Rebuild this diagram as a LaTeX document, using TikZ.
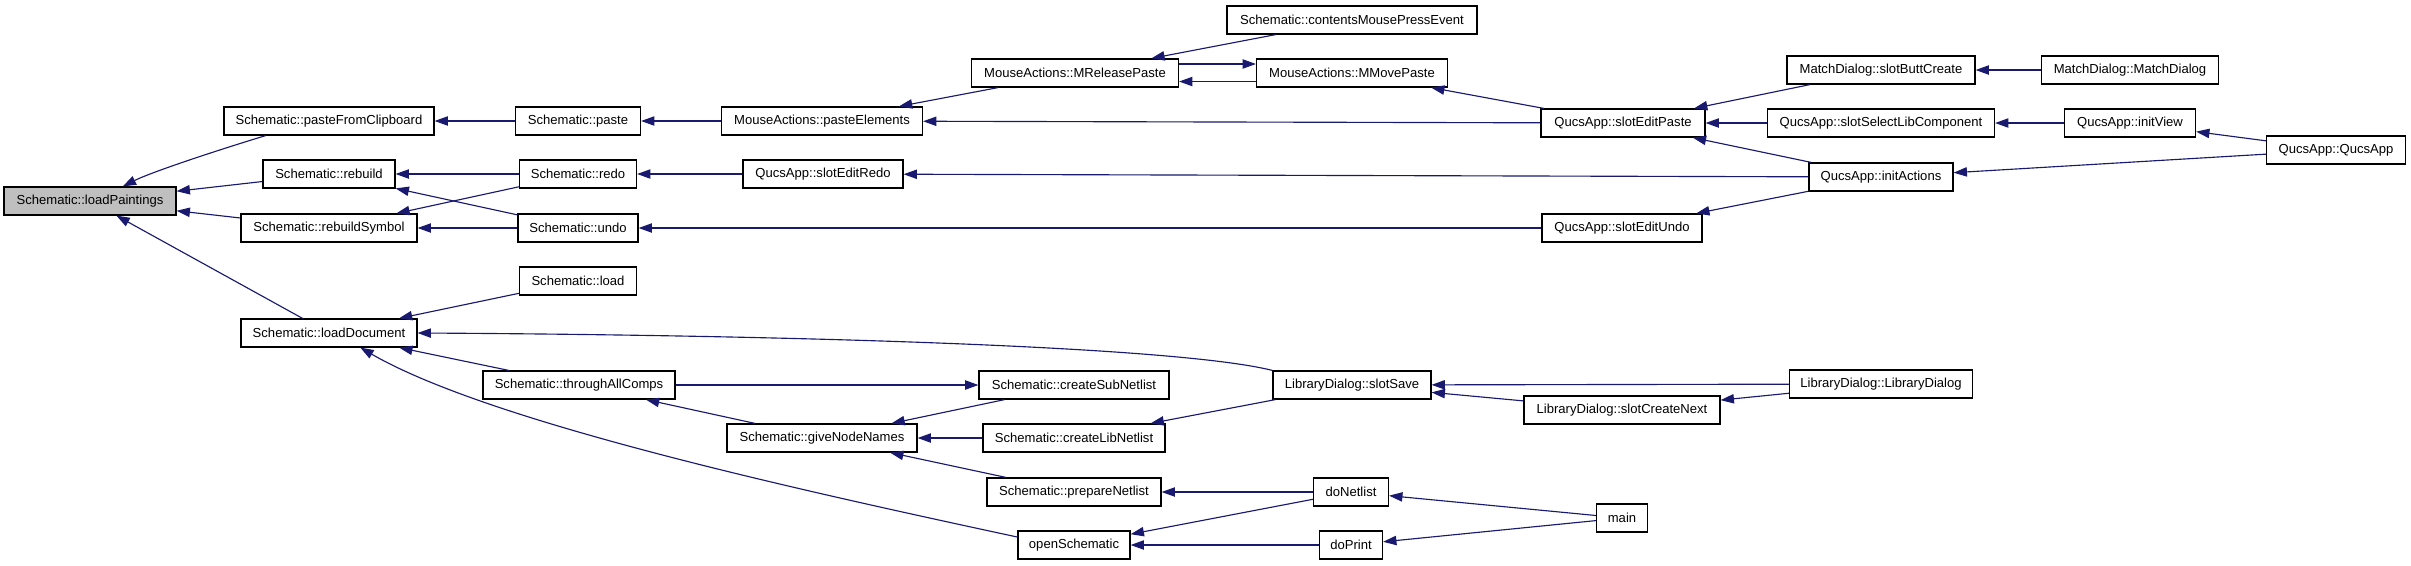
\documentclass[tikz,border=0pt]{standalone}
\usepackage{fontspec}
\setmainfont{Liberation Sans}
\usetikzlibrary{arrows.meta}
\definecolor{navyc}{HTML}{191970}
\definecolor{greyfill}{HTML}{BFBFBF}
\tikzset{
  fn/.style={draw=black, fill=white, line width=0.9pt, minimum height=21pt, inner sep=2pt,
             font=\fontsize{9.8}{11}\selectfont},
  bw/.style={minimum width=#1*0.75pt},
  conn/.style={draw=navyc, line width=0.85pt, -{Triangle[length=10pt,width=7pt]}},
}
\begin{document}
\begin{tikzpicture}[x=0.75pt,y=-0.75pt]
\fill[white] (0,0) rectangle (2411,565);
\useasboundingbox (0,0) rectangle (2411,565);

% nodes
\node[fn,bw=172,fill=greyfill] (lp) at (90,201) {Schematic::loadPaintings};
\node[fn,bw=210] (pfc) at (329,121) {Schematic::pasteFromClipboard};
\node[fn,bw=132] (reb) at (329,174) {Schematic::rebuild};
\node[fn,bw=176] (rbs) at (329,228) {Schematic::rebuildSymbol};
\node[fn,bw=176] (ldoc) at (329,333) {Schematic::loadDocument};
\node[fn,bw=125] (paste) at (578,121) {Schematic::paste};
\node[fn,bw=117] (redo) at (578,174) {Schematic::redo};
\node[fn,bw=120] (undo) at (578,228) {Schematic::undo};
\node[fn,bw=117] (load) at (578,281) {Schematic::load};
\node[fn,bw=192] (tac) at (579,385) {Schematic::throughAllComps};
\node[fn,bw=201] (pe) at (822,121) {MouseActions::pasteElements};
\node[fn,bw=160] (ser) at (823,174) {QucsApp::slotEditRedo};
\node[fn,bw=190] (gnn) at (822,438) {Schematic::giveNodeNames};
\node[fn,bw=207] (mrp) at (1075,73) {MouseActions::MReleasePaste};
\node[fn,bw=191] (mmp) at (1352,73) {MouseActions::MMovePaste};
\node[fn,bw=250] (cmpe) at (1352,20) {Schematic::contentsMousePressEvent};
\node[fn,bw=190] (csn) at (1074,385) {Schematic::createSubNetlist};
\node[fn,bw=182] (cln) at (1074,438) {Schematic::createLibNetlist};
\node[fn,bw=174] (pn) at (1074,492) {Schematic::prepareNetlist};
\node[fn,bw=112] (os) at (1074,545) {openSchematic};
\node[fn,bw=158] (ss) at (1352,385) {LibraryDialog::slotSave};
\node[fn,bw=75] (dn) at (1351,492) {doNetlist};
\node[fn,bw=63] (dp) at (1351,545) {doPrint};
\node[fn,bw=164] (sep) at (1623,123) {QucsApp::slotEditPaste};
\node[fn,bw=160] (seu) at (1622,228) {QucsApp::slotEditUndo};
\node[fn,bw=196] (scn) at (1622,410) {LibraryDialog::slotCreateNext};
\node[fn,bw=51] (main) at (1622,518) {main};
\node[fn,bw=188] (sbc) at (1881,70) {MatchDialog::slotButtCreate};
\node[fn,bw=227] (ssl) at (1881,123) {QucsApp::slotSelectLibComponent};
\node[fn,bw=144] (ia) at (1881,177) {QucsApp::initActions};
\node[fn,bw=183] (ld) at (1881,384) {LibraryDialog::LibraryDialog};
\node[fn,bw=177] (md) at (2130,70) {MatchDialog::MatchDialog};
\node[fn,bw=131] (iv) at (2130,123) {QucsApp::initView};
\node[fn,bw=139] (qa) at (2336,150) {QucsApp::QucsApp};

% connectors (arrowhead at callee)
\draw[conn] (pfc.193) .. controls +(-40,12) and +(30,-15) .. (lp.24);
\draw[conn] (reb) -- (lp);
\draw[conn] (rbs) -- (lp);
\draw[conn] (ldoc) -- (lp);
\draw[conn] (paste) -- (pfc);
\draw[conn] (pe) -- (paste);
\draw[conn] (mrp) -- (pe);
\draw[conn] (cmpe) -- (mrp);
\draw[conn] ([yshift=6.75pt]mrp.east) -- ([yshift=6.75pt]mmp.west);
\draw[conn] ([yshift=-6.4pt]mmp.west) -- ([yshift=-6.4pt]mrp.east);
\draw[conn] (sep) -- (mmp);
\draw[conn] (sep) -- (pe);
\draw[conn] (sbc) -- (sep);
\draw[conn] (md) -- (sbc);
\draw[conn] (ssl) -- (sep);
\draw[conn] (iv) -- (ssl);
\draw[conn] (qa) -- (iv);
\draw[conn] (qa) -- (ia);
\draw[conn] (ia) -- (sep);
\draw[conn] (ia) -- (seu);
\draw[conn] (ia) -- (ser);
\draw[conn] (redo) -- (reb);
\draw[conn] (redo) -- (rbs);
\draw[conn] (undo) -- (reb);
\draw[conn] (undo) -- (rbs);
\draw[conn] (ser) -- (redo);
\draw[conn] (seu) -- (undo);
\draw[conn] (load) -- (ldoc);
\draw[conn] (ss.north west) .. controls +(-100,-25) and +(350,2) .. (ldoc.east);
\draw[conn] (tac) -- (ldoc);
\draw[conn] (os.172) .. controls +(-218,-47) and +(130,75) .. (ldoc.-25);
\draw[conn] (tac) -- (csn);
\draw[conn] (gnn) -- (tac);
\draw[conn] (csn) -- (gnn);
\draw[conn] (cln) -- (gnn);
\draw[conn] (pn) -- (gnn);
\draw[conn] (ss) -- (cln);
\draw[conn] (ld) -- (ss);
\draw[conn] (scn) -- (ss);
\draw[conn] (ld) -- (scn);
\draw[conn] (dn) -- (pn);
\draw[conn] (dn) -- (os);
\draw[conn] (dp) -- (os);
\draw[conn] (main) -- (dn);
\draw[conn] (main) -- (dp);
\end{tikzpicture}
\end{document}
